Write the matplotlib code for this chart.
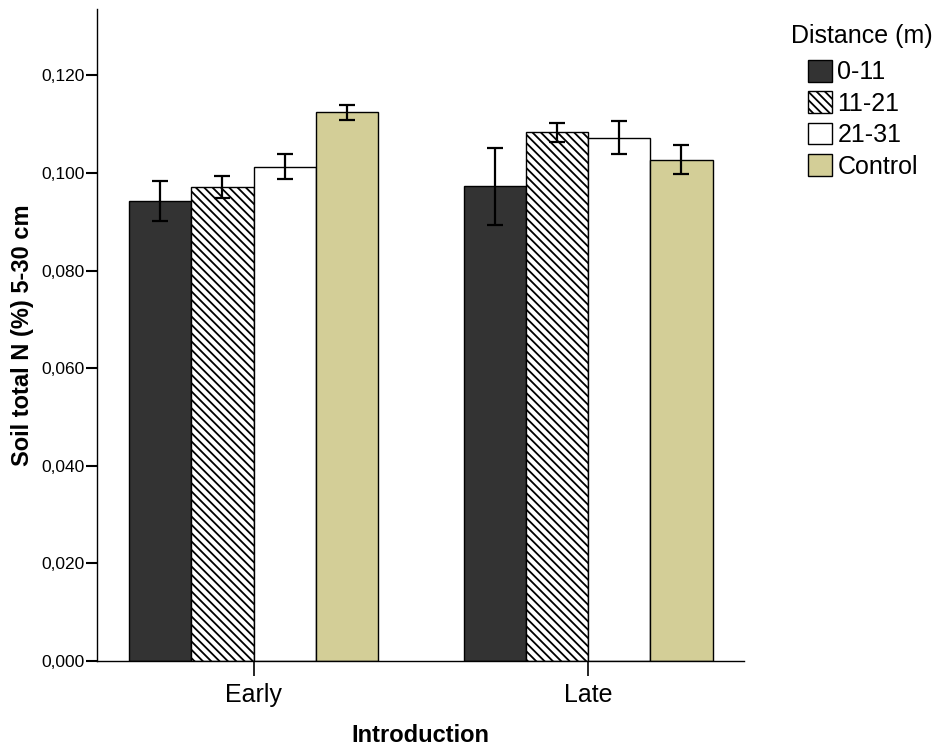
import matplotlib
matplotlib.use("Agg")
import matplotlib.pyplot as plt
import numpy as np
from matplotlib.ticker import FuncFormatter
from matplotlib.patches import Patch

# ---- data ----
groups = ["Early", "Late"]
series = ["0-11", "11-21", "21-31", "Control"]
means = {
    "0-11":    [0.0943, 0.0973],
    "11-21":   [0.0971, 0.1083],
    "21-31":   [0.1013, 0.1072],
    "Control": [0.1124, 0.1027],
}
errs = {
    "0-11":    [0.0041, 0.0079],
    "11-21":   [0.0022, 0.0020],
    "21-31":   [0.0026, 0.0034],
    "Control": [0.0016, 0.0030],
}
yticks = [0.0, 0.02, 0.04, 0.06, 0.08, 0.10, 0.12]

# ---- style ----
plt.rcParams['font.family'] = ['Liberation Sans', 'DejaVu Sans']
plt.rcParams['hatch.linewidth'] = 1.3
face = {"0-11": "#333333", "11-21": "white", "21-31": "white", "Control": "#d3ce97"}
hatch = {"0-11": None, "11-21": "\\\\\\\\", "21-31": None, "Control": None}

fig = plt.figure(figsize=(9.42, 7.49), dpi=100)
ax = fig.add_axes([97/942, 88/749, (744-97)/942, (661-9)/749])

x = np.arange(len(groups))
w = 0.186
for i, s in enumerate(series):
    pos = x + (i - 1.5) * w
    ax.bar(pos, means[s], width=w, color=face[s], edgecolor="black",
           linewidth=1.0, hatch=hatch[s], zorder=2)
    ax.errorbar(pos, means[s], yerr=errs[s], fmt="none", ecolor="black",
                elinewidth=1.6, capsize=5.5, capthick=1.6, zorder=3)

ax.set_xlim(-0.468, 1.466)
ax.set_ylim(0, 0.1336)
ax.set_yticks(yticks)
ax.yaxis.set_major_formatter(FuncFormatter(lambda v, p: f"{v:.3f}".replace(".", ",")))
ax.set_xticks(x)
ax.set_xticklabels(groups, fontsize=18)
ax.tick_params(axis="y", labelsize=12.5, length=8, width=1.5, direction="out", pad=1)
ax.tick_params(axis="x", length=11, width=1.2, direction="out", pad=5)
for sp in ["top", "right"]:
    ax.spines[sp].set_visible(False)
for sp in ["left", "bottom"]:
    ax.spines[sp].set_linewidth(1.0)
ax.set_ylabel("Soil total N (%) 5-30 cm", fontsize=17, fontweight="bold", labelpad=5)
ax.set_xlabel("Introduction", fontsize=17, fontweight="bold", labelpad=12)

# legend
fig.text(791/942, 1 - 36/749, "Distance (m)", fontsize=18, ha="left", va="center")
handles = [Patch(facecolor=face[s], edgecolor="black", linewidth=1.0, hatch=hatch[s]) for s in series]
leg = fig.legend(handles, series, loc="upper left", bbox_to_anchor=(807.5/942, 1 - 60/749),
                 frameon=False, fontsize=18, handlelength=0.98, handleheight=0.95,
                 handletextpad=0.22, labelspacing=0.28, borderpad=0, borderaxespad=0)

fig.savefig("out.png", dpi=100)
